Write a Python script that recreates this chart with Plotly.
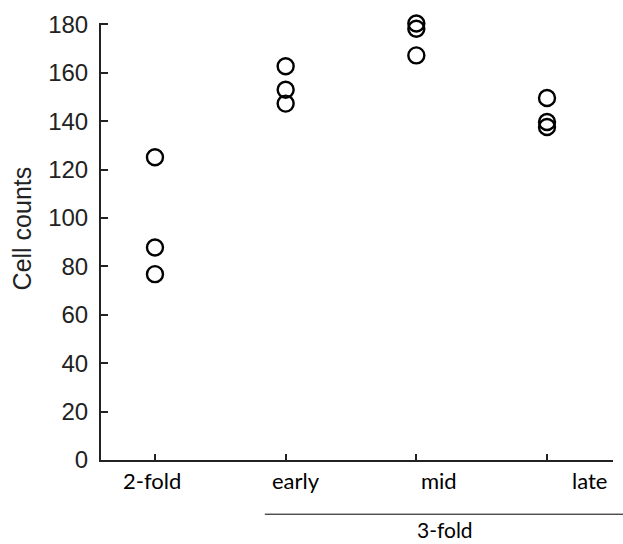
import plotly.graph_objects as go

categories = ["2-fold", "early", "mid", "late"]
counts_2fold = [125.1, 87.8, 76.8]
counts_early = [162.7, 153.0, 147.3]
counts_mid = [180.4, 178.2, 167.2]
counts_late = [149.6, 139.7, 137.6]
y_ticks = [0, 20, 40, 60, 80, 100, 120, 140, 160, 180]
group_label = "3-fold"

series = [counts_2fold, counts_early, counts_mid, counts_late]
xs, ys = [], []
for i, vals in enumerate(series):
    xs += [i] * len(vals)
    ys += vals

fig = go.Figure()
fig.add_trace(go.Scatter(
    x=xs, y=ys, mode="markers", cliponaxis=False,
    marker=dict(symbol="circle-open", size=16, color="black", line=dict(width=2.4, color="black")),
    showlegend=False,
))

fig.update_layout(
    width=623, height=544,
    margin=dict(l=101, r=10, t=23, b=84),
    plot_bgcolor="white", paper_bgcolor="white",
    xaxis=dict(range=[-0.413, 3.505], tickvals=[0, 1, 2, 3], ticktext=[""] * 4,
               showgrid=False, zeroline=False, showline=True, linecolor="#222", linewidth=2,
               ticks="inside", ticklen=6, tickwidth=2, tickcolor="#222"),
    yaxis=dict(range=[0, 180.6], tickvals=y_ticks, showgrid=False, zeroline=False,
               showline=True, linecolor="#222", linewidth=2,
               ticks="inside", ticklen=7, tickwidth=2, tickcolor="#222",
               ticklabelstandoff=6,
               tickfont=dict(family="Liberation Sans, Arial", size=24, color="#222")),
)

label_shifts = [-3, 10, 23, 42]
for i, (lab, sh) in enumerate(zip(categories, label_shifts)):
    fig.add_annotation(x=i, y=0, yref="paper", xref="x", text=lab, showarrow=False,
                       xanchor="center", yanchor="top", xshift=sh, yshift=-5,
                       font=dict(family="Lato", size=22, color="black"))

fig.add_annotation(x=0, xref="paper", y=0.53, yref="paper", text="Cell counts", showarrow=False,
                   textangle=-90, xanchor="center", yanchor="middle", xshift=-79,
                   font=dict(family="Liberation Sans, Arial", size=25, color="#222"))

fig.add_shape(type="line", xref="paper", yref="paper", x0=0.32, x1=1.02, y0=-0.124, y1=-0.124,
              line=dict(color="black", width=1))
fig.add_annotation(x=0.672, xref="paper", y=-0.16, yref="paper", text=group_label, showarrow=False,
                   xanchor="center", yanchor="middle",
                   font=dict(family="Lato", size=21, color="black"))

fig.write_html("out.html", config={"displayModeBar": False},
               post_script="document.body.style.margin='0px';")
